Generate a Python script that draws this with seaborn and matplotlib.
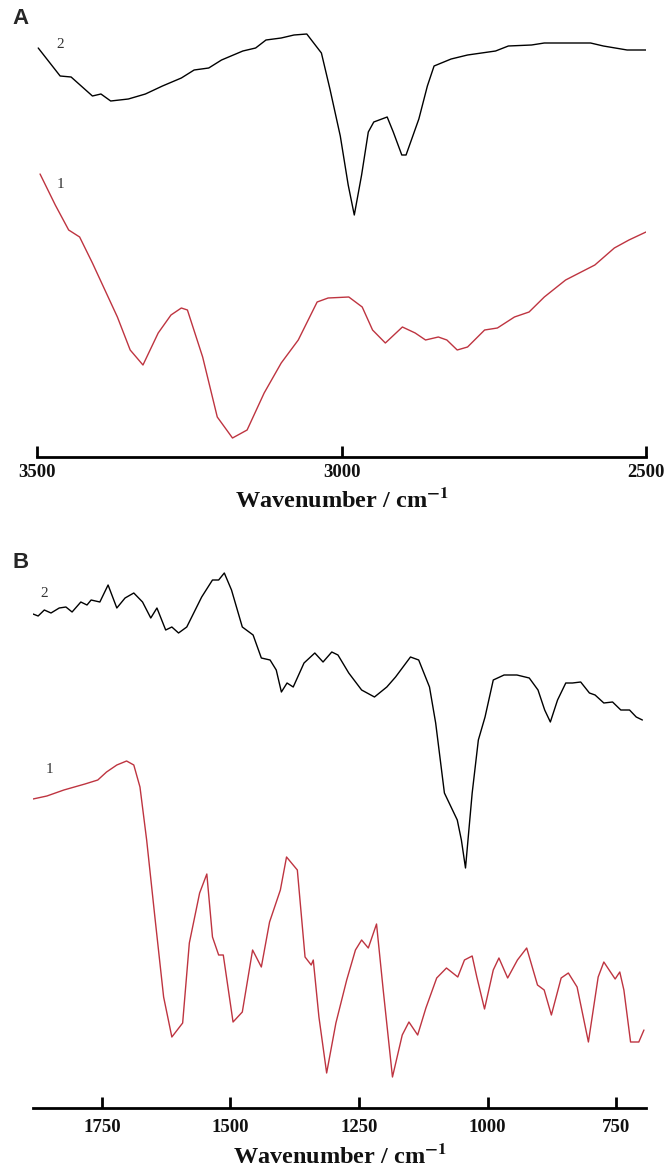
import matplotlib
matplotlib.use("Agg")
import matplotlib.pyplot as plt
import seaborn as sns
import pandas as pd

# ---------------- Data (relative transmittance, a.u.) ----------------
# Panel A: 3500-2500 cm-1
wn_a1 = [3495, 3470, 3448, 3430, 3409, 3368, 3347, 3326, 3301, 3280, 3263, 3253, 3228, 3204,
         3179, 3155, 3127, 3099, 3071, 3040, 3022, 2988, 2966, 2949, 2928, 2900, 2879, 2862,
         2841, 2827, 2810, 2793, 2765, 2744, 2716, 2692, 2667, 2632, 2584, 2552, 2528, 2500]
t_a1 = [283, 252, 227, 220, 194, 140, 107, 92, 124, 142, 149, 147, 100, 40,
        19, 27, 64, 94, 117, 155, 159, 160, 150, 127, 114, 130, 124, 117,
        120, 117, 107, 110, 127, 129, 140, 145, 160, 177, 192, 209, 217, 225]

wn_a2 = [3498, 3462, 3444, 3409, 3395, 3379, 3350, 3322, 3294, 3263, 3242, 3218, 3197, 3162,
         3141, 3124, 3099, 3078, 3057, 3033, 3019, 3002, 2989, 2979, 2967, 2956, 2947, 2925,
         2915, 2901, 2894, 2873, 2859, 2848, 2820, 2793, 2747, 2726, 2688, 2667, 2591, 2570,
         2531, 2500]
t_a2 = [409, 381, 380, 361, 363, 356, 358, 363, 371, 379, 387, 389, 397, 406,
        409, 417, 419, 422, 423, 404, 368, 321, 272, 242, 282, 325, 335, 340,
        325, 302, 302, 338, 371, 391, 398, 402, 406, 411, 412, 414, 414, 411,
        407, 407]

# Panel B: 1884-696 cm-1
wn_b1 = [1884, 1857, 1824, 1783, 1758, 1741, 1721, 1702, 1688, 1676, 1663, 1647, 1630, 1614,
         1593, 1580, 1560, 1546, 1535, 1523, 1514, 1495, 1477, 1457, 1440, 1424, 1403, 1391,
         1370, 1355, 1343, 1339, 1328, 1313, 1295, 1274, 1257, 1245, 1232, 1216, 1203, 1185,
         1166, 1153, 1136, 1120, 1099, 1080, 1058, 1045, 1030, 1021, 1006, 989, 978, 961,
         942, 924, 903, 890, 876, 857, 843, 826, 804, 785, 774, 752, 743, 735, 722, 706, 696]
t_b1 = [309, 312, 318, 324, 328, 336, 343, 347, 343, 321, 268, 191, 111, 71,
        85, 165, 215, 234, 171, 153, 153, 86, 96, 158, 141, 186, 218, 251,
        238, 151, 143, 148, 91, 35, 85, 128, 158, 168, 160, 184, 118, 31,
        73, 86, 73, 100, 130, 140, 131, 148, 152, 131, 99, 138, 150, 130,
        148, 160, 123, 118, 93, 130, 135, 121, 66, 131, 146, 129, 136, 118, 66, 66, 78]

wn_b2 = [1884, 1874, 1862, 1849, 1833, 1820, 1808, 1791, 1779, 1771, 1754, 1738, 1721, 1705,
         1688, 1671, 1655, 1643, 1626, 1614, 1601, 1585, 1556, 1535, 1523, 1512, 1498, 1477,
         1456, 1440, 1423, 1411, 1401, 1390, 1378, 1357, 1336, 1320, 1303, 1291, 1270, 1245,
         1220, 1196, 1179, 1150, 1134, 1113, 1101, 1084, 1059, 1051, 1043, 1030, 1018, 1005,
         989, 968, 943, 919, 902, 889, 878, 864, 848, 835, 819, 802, 791, 774, 757, 741,
         724, 711, 699]
t_b2 = [494, 492, 498, 495, 500, 501, 496, 506, 503, 508, 506, 523, 500, 510,
        515, 506, 490, 500, 478, 481, 475, 481, 511, 528, 528, 535, 518, 481,
        473, 450, 448, 438, 416, 425, 421, 445, 455, 446, 456, 453, 435, 418,
        411, 421, 431, 451, 448, 421, 385, 315, 288, 268, 240, 315, 368, 391,
        428, 433, 433, 430, 418, 398, 386, 408, 425, 425, 426, 415, 413, 405, 406, 398,
        398, 391, 388]

ticks_a = [3500, 3000, 2500]
ticks_b = [1750, 1500, 1250, 1000, 750]
panel_labels = ["A", "B"]
curve_labels = ["1", "2"]
xlabel_text = "Wavenumber / cm$^{\\mathbf{-1}}$"

# ---------------- Plot ----------------
sns.set_theme(style="white")
plt.rcParams["font.family"] = ["Liberation Serif", "DejaVu Serif"]
plt.rcParams["mathtext.fontset"] = "stix"

W, H = 665, 1170
fig = plt.figure(figsize=(W / 100, H / 100), dpi=100)

RED = "#be3440"


def make_axes(left, right, top, bottom):
    return fig.add_axes([left / W, 1 - bottom / H, (right - left) / W, (bottom - top) / H])


ax_a = make_axes(37, 646, 25, 457)
ax_b = make_axes(33, 646, 568, 1108)

df_a = pd.concat([
    pd.DataFrame({"wn": wn_a1, "t": t_a1, "s": "1"}),
    pd.DataFrame({"wn": wn_a2, "t": t_a2, "s": "2"}),
])
df_b = pd.concat([
    pd.DataFrame({"wn": wn_b1, "t": t_b1, "s": "1"}),
    pd.DataFrame({"wn": wn_b2, "t": t_b2, "s": "2"}),
])

for ax, df, xlim, ylim, ticks, tpad, lpad in [
    (ax_a, df_a, (3500, 2500), (0, 432), ticks_a, 5, 5),
    (ax_b, df_b, (1884, 692), (0, 540), ticks_b, 8, 6),
]:
    sns.lineplot(data=df, x="wn", y="t", hue="s", palette={"1": RED, "2": "black"},
                 sort=False, estimator=None, linewidth=1.0, legend=False, ax=ax)
    ax.set_xlim(*xlim)
    ax.set_ylim(*ylim)
    ax.set_xticks(ticks)
    ax.set_yticks([])
    for s in ["top", "right", "left"]:
        ax.spines[s].set_visible(False)
    ax.spines["bottom"].set_linewidth(2.0)
    ax.spines["bottom"].set_color("black")
    ax.tick_params(axis="x", direction="in", length=8, width=2, color="black",
                   bottom=True, pad=tpad, labelsize=13.5, labelcolor="#111111")
    for lab in ax.get_xticklabels():
        lab.set_fontweight("bold")
    ax.set_xlabel(xlabel_text, fontsize=17.5, fontweight="bold", labelpad=lpad,
                  color="#111111")
    ax.set_ylabel("")
    ax.patch.set_alpha(0)

# curve labels
ax_a.text(3462, 412, curve_labels[1], fontsize=11, color="#333333", ha="center", va="center")
ax_a.text(3462, 272, curve_labels[0], fontsize=11, color="#333333", ha="center", va="center")
ax_b.text(1862, 514, curve_labels[1], fontsize=11, color="#333333", ha="center", va="center")
ax_b.text(1852, 338, curve_labels[0], fontsize=11, color="#333333", ha="center", va="center")

# panel labels
fig.text(12 / W, 1 - 18 / H, panel_labels[0], fontsize=16, fontweight="bold",
         family="Liberation Sans", ha="left", va="center")
fig.text(12 / W, 1 - 562 / H, panel_labels[1], fontsize=16, fontweight="bold",
         family="Liberation Sans", ha="left", va="center")

fig.savefig("out.png", dpi=100)
